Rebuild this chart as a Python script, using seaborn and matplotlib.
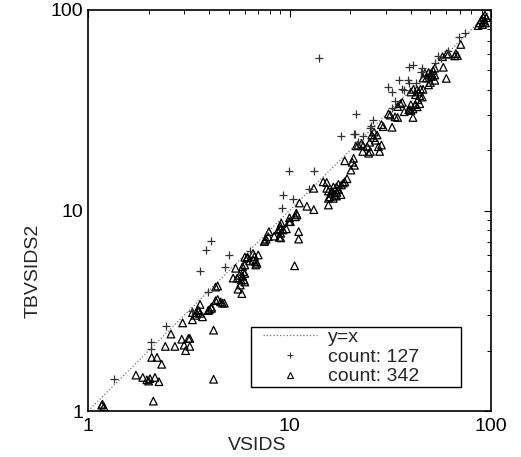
import matplotlib
matplotlib.use("Agg")
import matplotlib.pyplot as plt
import seaborn as sns
import pandas as pd
from matplotlib.lines import Line2D
from matplotlib.patches import Rectangle

# ---- data ----
plus_x = [14.0, 39, 41.2, 44.7, 45.5, 35, 38.7, 30.9, 32.3, 36.3, 37.1, 33.4, 32.3,
          21.5, 26.1, 25.4, 25.1, 18.1, 20.8, 21.2, 23.1, 21.9,
          52.6, 56.2, 69.6, 73.9, 61.5, 54.5, 39.4, 42.2,
          9.9, 13.3, 12.5, 9.3, 10.4, 9.15,
          4.1, 3.85, 5.0, 4.8, 3.6, 6.4,
          3.95, 3.3, 2.44, 2.05, 2.05, 1.34]
plus_y = [57.8, 51.8, 53, 48.8, 51.5, 44.7, 44.7, 41.1, 39, 40.5, 39.8, 35, 32.6,
          30.2, 28.4, 26.5, 25.7, 23.4, 24.1, 24.1, 23.5, 22,
          54.6, 57.8, 73.1, 76.5, 62.6, 59.3, 43.1, 43.4,
          15.7, 15.8, 12.8, 11.9, 11.4, 10.3,
          7.08, 6.35, 6.0, 5.25, 5.0, 6.3,
          3.9, 3.17, 2.66, 2.2, 2.04, 1.44]

tri_x = [91.5, 93.3, 95, 89.8, 88, 86.3, 92, 93.9, 90.6,
         70.8,
         66.9, 66.1, 68.2, 61.5, 60.3, 57.5,
         58, 60,
         52.6, 51.6, 50.7, 49, 50, 52.6, 50.7, 46, 47.9, 52.6, 50, 49, 47,
         44.7, 46, 43.7, 42.9, 41.2, 40, 42.2, 44.3, 45.6, 43.3, 42.2, 44.3, 43, 41, 39.5, 40,
         41,
         35.5, 36.3, 34.4,
         37.1, 39.1, 40,
         33.4, 34.4, 31.6, 31,
         28.6, 29.2, 32.3,
         26.3, 27.2, 25.6, 26.1, 26.7,
         22.8, 23.2, 21.9, 21.4,
         25, 24.3, 25.2, 28.6, 28, 27.6,
         23.1, 24.7,
         20.8, 20.5, 21, 20.2, 18.8,
         19.3, 18.8, 18.5,
         14.7, 15.3,
         16.5, 16.9, 16.2, 17.2, 16.7, 15.9, 15.6, 17.5, 15.3, 17.1, 17.5, 17.1, 16.5, 18, 18.1, 16.1,
         15.6, 15.6,
         13.2,
         11.2, 12.2, 13.2,
         10.8, 10.9, 10.7,
         10, 9.95, 10.1,
         9.65, 9.1, 9.0, 9.3, 9.05, 8.4, 7.9, 7.85, 7.55, 7.65, 9.0, 8.8, 9.05, 8.9, 7.5,
         11.1, 11.1,
         10.6,
         6.6, 7.0, 6.0, 6.15, 6.35, 6.8, 6.6, 6.7, 6.2, 6.9, 6.8,
         5.4, 6.0, 5.85, 5.9,
         5.65, 5.85, 6.0, 5.5, 5.75, 5.95, 5.25, 5.55, 5.8, 6.0, 5.7,
         4.4, 4.3,
         4.4, 4.55, 4.65, 4.75, 4.3,
         3.6,
         3.3, 3.55, 3.45, 3.4, 3.7, 3.3, 3.6, 3.5,
         4.0, 4.1, 4.1, 3.95,
         2.95,
         2.58,
         2.92, 3.15, 3.2,
         4.2,
         2.42, 2.7, 3.0, 3.2, 3.05,
         2.07, 2.2,
         2.32,
         1.73,
         1.87, 1.96, 2.03, 2.15, 2.25, 2.0,
         4.2,
         2.11,
         1.18, 1.2, 1.17]
tri_y = [92.3, 94.3, 91.6, 89.5, 86.2, 83.6, 87.9, 86.2, 84.6,
         67.3,
         60.6, 59, 59.3, 60.2, 60.5, 58.5,
         51.8, 45.6,
         51.3, 49.9, 48.4, 48.8, 47.4, 47.4, 46.6, 45.8, 45.8, 44.6, 43.5, 42.3, 48.4,
         40.3, 40.2, 39, 40, 40.2, 39, 37.8, 37.4, 36.8, 35.7, 33.7, 34.1, 32.9, 32.1, 31.8, 33.7,
         29.1,
         34.1, 34.6, 33,
         31.1, 31.8, 31.5,
         29.3, 29.1, 29.9, 30.3,
         26.8, 26.2, 26,
         24.6, 23.8, 23.8, 23.1, 22.4,
         21.6, 21, 21.2, 21.0,
         21.9, 20.8, 19.7, 21.2, 19.7, 20.8,
         19.7, 19.3,
         18.2, 17.4, 16.8, 15.9, 17.7,
         14.4, 13.9, 13.7,
         13.9, 13.8,
         13.1, 12.7, 12.5, 12.3, 11.9, 11.7, 12.5, 12.7, 12.9, 13.1, 13.5, 11.8, 11.5, 12, 13.4, 12.2,
         11.5, 10.65,
         12.9,
         10.9, 10.5, 10.1,
         9.7, 9.5, 9.3,
         9.2, 8.8, 8.8,
         8.1, 8.65, 8.1, 8.0, 7.3, 7.45, 7.85, 7.4, 7.1, 7.2, 8.35, 8.0, 7.7, 7.35, 7.0,
         7.85, 7.2,
         5.3,
         6.1, 6.0, 5.85, 5.8, 5.6, 5.55, 5.65, 5.9, 5.85, 5.45, 5.35,
         5.15, 5.35, 5.25, 4.95,
         4.75, 4.7, 4.85, 4.6, 4.5, 4.5, 4.6, 4.05, 3.85, 4.4, 4.25,
         4.2, 4.15,
         3.6, 3.5, 3.45, 3.45, 3.55,
         3.4,
         3.1, 3.16, 3.08, 3.0, 2.95, 2.85, 3.07, 3.2,
         3.2, 3.25, 3.3, 3.17,
         2.75,
         2.42,
         2.28, 2.3, 2.3,
         2.53,
         2.1, 2.1, 2.13, 2.1, 2.0,
         1.85, 1.85,
         1.71,
         1.51,
         1.47, 1.43, 1.45, 1.47, 1.4, 1.41,
         1.44,
         1.12,
         1.08, 1.05, 1.07]

diag = [1, 100]
x_ticks = [1, 10, 100]
tick_labels = ["1", "10", "100"]
legend_labels = ["y=x", "count: 127", "count: 342"]
x_label = "VSIDS"
y_label = "TBVSIDS2"

# ---- plot ----
sns.set_theme(style="white")
plt.rcParams["font.family"] = ["Liberation Sans", "DejaVu Sans"]

fig = plt.figure(figsize=(5.21, 4.57), dpi=100)
ax = fig.add_axes([88 / 521, 46 / 457, 403 / 521, 401 / 457])

df_plus = pd.DataFrame({"x": plus_x, "y": plus_y})
df_tri = pd.DataFrame({"x": tri_x, "y": tri_y})

ax.plot(diag, diag, linestyle=":", color="0.45", linewidth=0.9, zorder=1)
sns.scatterplot(data=df_plus, x="x", y="y", ax=ax, marker="+", color="#333333",
                s=36, linewidth=0.9, zorder=3)
sns.scatterplot(data=df_tri, x="x", y="y", ax=ax, marker="^", facecolor="none",
                edgecolor="black", s=30, linewidth=0.9, zorder=2)

ax.set_xscale("log")
ax.set_yscale("log")
ax.set_xlim(1, 100)
ax.set_ylim(1, 100)
ax.set_xticks(x_ticks)
ax.set_xticklabels(tick_labels)
ax.set_yticks(x_ticks)
ax.set_yticklabels(tick_labels)
ax.tick_params(which="both", direction="in", top=True, right=True, colors="black",
               labelsize=14)
ax.tick_params(which="major", length=5, width=0.8)
ax.tick_params(which="minor", length=3, width=0.7)
ax.tick_params(axis="x", which="major", pad=5)
for sp in ax.spines.values():
    sp.set_color("black")
    sp.set_linewidth(1.2)

ax.set_xlabel(x_label, fontsize=14)
ax.xaxis.set_label_coords(0.42, -0.066)
ax.set_ylabel(y_label, fontsize=14)
ax.yaxis.set_label_coords(-0.115, 0.35)

# legend: frame drawn separately (MATLAB-style box with extra room on the right)
frame = Rectangle((0.4045, 0.0599), 0.9256 - 0.4045, 0.2095 - 0.0599,
                  transform=ax.transAxes, facecolor="white", edgecolor="black",
                  linewidth=1.0, zorder=5)
ax.add_patch(frame)

handles = [
    Line2D([], [], linestyle=":", color="0.45", linewidth=0.9),
    Line2D([], [], linestyle="none", marker="+", color="#333333", markersize=4, markeredgewidth=0.8),
    Line2D([], [], linestyle="none", marker="^", markerfacecolor="none",
           markeredgecolor="black", markersize=4, markeredgewidth=0.8),
]
leg = ax.legend(handles, legend_labels, loc="upper left",
                bbox_to_anchor=(0.434, 0.207), borderaxespad=0, borderpad=0,
                fontsize=14, frameon=False,
                handlelength=2.78, labelspacing=0.12, handletextpad=0.57)
leg.set_zorder(6)

fig.savefig("out.png", dpi=100)
